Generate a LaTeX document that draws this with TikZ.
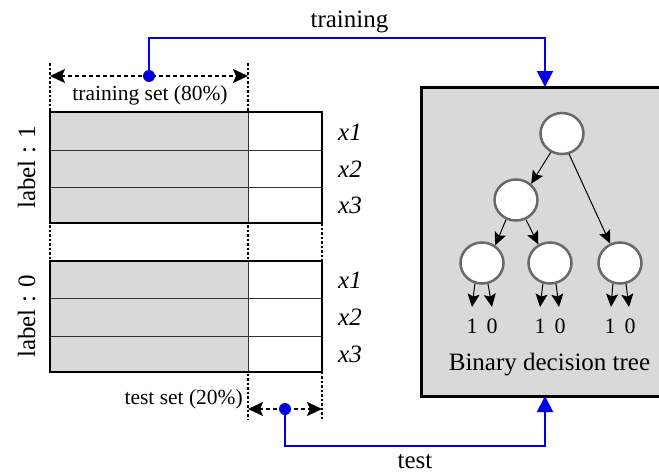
\documentclass[tikz,border=0pt]{standalone}
\usepackage{fontspec}
\setmainfont{Liberation Serif}
\usetikzlibrary{arrows.meta,shapes.geometric,calc}
\definecolor{cellgray}{RGB}{217,217,217}
\definecolor{myblue}{RGB}{0,0,225}
\definecolor{ringgray}{RGB}{105,105,105}
\begin{document}
\begin{tikzpicture}[x=1pt,y=-1pt,
  bigtxt/.style={font=\fontsize{25}{30}\selectfont, inner sep=0pt, anchor=base},
  midtxt/.style={font=\fontsize{21.5}{26}\selectfont, inner sep=0pt, anchor=base},
  digtxt/.style={font=\fontsize{22}{26}\selectfont, inner sep=0pt, anchor=base},
  xtxt/.style={font=\fontsize{25}{30}\selectfont\itshape, inner sep=0pt, anchor=base},
  outerline/.style={line width=2.6pt, line join=miter},
  innerline/.style={line width=1pt, black!80},
  guideline/.style={line width=1.8pt, dash pattern=on 2.5pt off 2pt},
  spanarrow/.style={line width=1.8pt, dash pattern=on 4pt off 3pt,
     {Stealth[length=15pt,width=14pt,inset=3pt]}-{Stealth[length=15pt,width=14pt,inset=3pt]}},
  bluelink/.style={myblue, line width=2pt, -{Triangle[length=16pt,width=16pt]}},
  bluedot/.style={circle, fill=myblue, inner sep=0pt, minimum size=12pt},
  treenode/.style={ellipse, draw=ringgray, line width=2.5pt, fill=white, inner sep=0pt,
     minimum width=43pt, minimum height=41pt},
  treeedge/.style={line width=1pt, -{Stealth[length=13pt,width=12pt,inset=2.5pt]}},
  panel/.style={draw=black, line width=3pt, fill=cellgray, inner sep=0pt,
     minimum width=252pt, minimum height=309pt}
]
\useasboundingbox (0,0) rectangle (659,474);
\clip (0,0) rectangle (659,474);

% guide (dotted) lines
\draw[guideline] (50,63) -- (50,261);
\draw[guideline] (248,63) -- (248,420);
\draw[guideline] (322,223) -- (322,420);

% upper table (label 1)
\fill[cellgray] (50,112) rectangle (248,223);
\fill[white] (248,112) rectangle (322,223);
\draw[innerline] (50,150) -- (322,150);
\draw[innerline] (50,187) -- (322,187);
\draw[innerline] (248,112) -- (248,223);
\draw[outerline] (50,112) rectangle (322,223);

% lower table (label 0)
\fill[cellgray] (50,261) rectangle (248,372);
\fill[white] (248,261) rectangle (322,372);
\draw[innerline] (50,298) -- (322,298);
\draw[innerline] (50,336) -- (322,336);
\draw[innerline] (248,261) -- (248,372);
\draw[outerline] (50,261) rectangle (322,372);

% row labels
\node[xtxt] (u1) at (350,140) {x1};
\node[xtxt] (u2) at (350,177) {x2};
\node[xtxt] (u3) at (350,213) {x3};
\node[xtxt] (l1) at (350,288) {x1};
\node[xtxt] (l2) at (350,325) {x2};
\node[xtxt] (l3) at (350,362) {x3};

\node[bigtxt, rotate=90] (lab1) at (35,167.5) {label : 1};
\node[bigtxt, rotate=90] (lab0) at (35,316.5) {label : 0};

% span arrows
\coordinate (trL) at (50,76);
\coordinate (trR) at (248,76);
\coordinate (teL) at (248,409);
\coordinate (teR) at (322,409);
\draw[spanarrow] (trL) -- (trR);
\draw[spanarrow] (teL) -- (teR);
\node[midtxt] (trlabel) at (150,100) {training set (80\%)};
\node[midtxt, anchor=base east] (telabel) at (243,404) {test set (20\%)};

% decision tree panel
\node[panel] (dt) at (547,241.5) {};

% blue links
\node[bluedot] (trdot) at (149,76) {};
\node[bluedot] (tedot) at (285,409) {};
\coordinate (trcorner) at (545,38);
\coordinate (tecorner) at (545,446);
\coordinate (dttop) at (545,87);
\coordinate (dtbot) at (545,396);
\draw[bluelink] (trdot.center) |- (trcorner) -- (dttop);
\draw[bluelink] (tedot.center) |- (tecorner) -- (dtbot);
\node[bigtxt] (trtxt) at (349.5,27) {training};
\node[bigtxt] (tetxt) at (415,468) {test};

% tree
\node[treenode] (root) at (562,133.5) {};
\node[treenode] (mid) at (516,200) {};
\node[treenode] (la) at (482,263) {};
\node[treenode] (lb) at (550,263) {};
\node[treenode] (lc) at (620,263) {};
\draw[treeedge] (root.239) -- (mid.47);
\draw[treeedge] (root.289) -- (lc.117);
\draw[treeedge] (mid.243) -- (la.53);
\draw[treeedge] (mid.297) -- (lb.122);

\coordinate (a1) at (472,307);
\coordinate (a0) at (492,307);
\coordinate (b1) at (540,307);
\coordinate (b0) at (559,307);
\coordinate (c1) at (611,307);
\coordinate (c0) at (629,307);
\draw[treeedge] (la.251) -- (a1);
\draw[treeedge] (la.286) -- (a0);
\draw[treeedge] (lb.251) -- (b1);
\draw[treeedge] (lb.286) -- (b0);
\draw[treeedge] (lc.251) -- (c1);
\draw[treeedge] (lc.286) -- (c0);

\node[digtxt] (d1) at (472,333) {1};
\node[digtxt] (d2) at (492,333) {0};
\node[digtxt] (d3) at (540,333) {1};
\node[digtxt] (d4) at (560,333) {0};
\node[digtxt] (d5) at (610,333) {1};
\node[digtxt] (d6) at (630,333) {0};

\node[bigtxt] (dtname) at (549.5,370) {Binary decision tree};
\end{tikzpicture}
\end{document}
